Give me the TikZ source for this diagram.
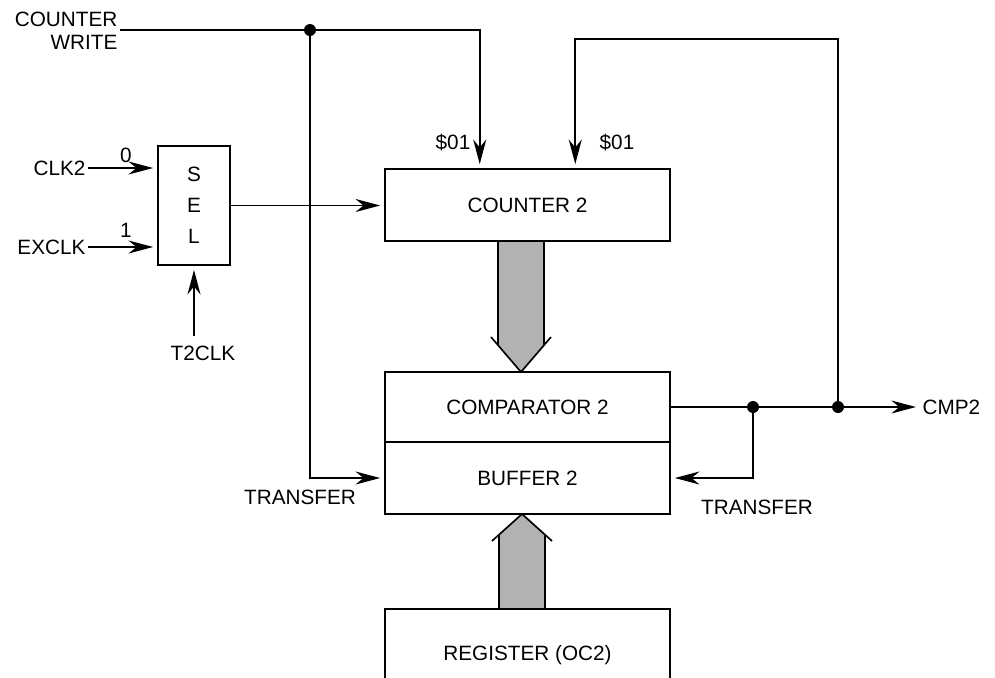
\documentclass[tikz,border=0pt]{standalone}
\usepackage{fontspec}
\setmainfont{Liberation Sans}
\usetikzlibrary{arrows.meta, calc}
\colorlet{busFill}{gray!60}
% wide bus arrow: x centre, tail y, tip y, signed depth of the open head
\newcommand{\bus}[4]{%
  \fill[busFill] ({#1-23},#2) -- ({#1-23},{#3+#4*23/30}) -- (#1,#3)
    -- ({#1+23},{#3+#4*23/30}) -- ({#1+23},#2) -- cycle;
  \draw ({#1-23},#2) -- ({#1-23},{#3+#4*23/30});
  \draw ({#1+23},#2) -- ({#1+23},{#3+#4*23/30});
  \draw ({#1-30},{#3+#4}) -- (#1,#3) -- ({#1+30},{#3+#4});}

\begin{document}
\begin{tikzpicture}[
  x=0.02cm, y=-0.02cm, line width=0.95pt,
  font=\fontsize{11.8}{14}\selectfont,
  >={Stealth[length=14pt, width=7.4pt, inset=4.5pt]},
  sig/.style={->, shorten >=2.3pt},
  blk/.style={draw, minimum width=5.7cm, inner sep=0pt},
  lbl/.style={inner sep=1pt},
  dot/.style={circle, fill, inner sep=0pt, minimum size=0.24cm},
]
\clip (0,0) rectangle (995,677);

% ── buses ────────────────────────────────────────────────────────────────────
\bus{521}{241}{372}{-35}
\bus{522}{609}{514}{27}

% ── blocks ───────────────────────────────────────────────────────────────────
\node[blk, minimum height=1.44cm] (cnt) at (527.5,205) {COUNTER 2};
\node[blk, minimum height=1.4cm]  (cmp) at (527.5,407) {COMPARATOR 2};
\node[blk, minimum height=1.44cm] (buf) at (527.5,478) {BUFFER 2};
\node[blk, minimum height=1.84cm] (reg) at (527.5,655) {REGISTER (OC2)};
\node[draw, minimum width=1.44cm, minimum height=2.38cm, align=center,
      font=\fontsize{11.8}{17.6}\selectfont] (sel) at (194,205.5) {S\\E\\L};

% ── clock select ─────────────────────────────────────────────────────────────
\foreach \y/\n/\t/\b/\by in {168/clk/CLK2/0/155, 247/exclk/EXCLK/1/230}{
  \node[lbl, anchor=east] (\n) at (88,\y) {\t};
  \draw[sig] (\n.east) -- (\n.east -| sel.west);
  \node[lbl] at (126,\by) {\b};
}
\draw[sig] (sel.east) -- (sel.east -| cnt.west);
\node[lbl] (t2clk) at (203,353) {T2CLK};
\draw[sig] ([yshift=4pt]t2clk.north -| sel.south) -- (sel.south);

% ── counter write / transfer ─────────────────────────────────────────────────
\node[lbl, align=right, anchor=east, font=\fontsize{11.8}{13}\selectfont]
  (cw) at (120,31) {COUNTER\\WRITE};
\coordinate (jw) at (310,30);
\coordinate (in1) at ($(cnt.north west)!1/3!(cnt.north east)$);
\coordinate (in2) at ($(cnt.north west)!2/3!(cnt.north east)$);
\draw[sig] (cw.east |- jw) -| (in1);
\draw[sig] (jw) |- (buf.west);
\node[dot] at (jw) {};

% ── compare output ───────────────────────────────────────────────────────────
\node[lbl, anchor=west] (cmp2) at (920,407) {CMP2};
\coordinate (jt) at (753,407);
\coordinate (jf) at (838,407);
\draw[sig] (cmp.east) -- (cmp2.west);
\draw[sig] (jt) |- (buf.east);
\draw[sig] (jf) -- ++(0,-368) -| (in2);
\node[dot] at (jt) {};
\node[dot] at (jf) {};

% ── labels ───────────────────────────────────────────────────────────────────
\node[lbl] at (453,143) {\$01};
\node[lbl] at (617,143) {\$01};
\node[lbl] at (300,497) {TRANSFER};
\node[lbl] at (757,507) {TRANSFER};

\end{tikzpicture}
\end{document}
